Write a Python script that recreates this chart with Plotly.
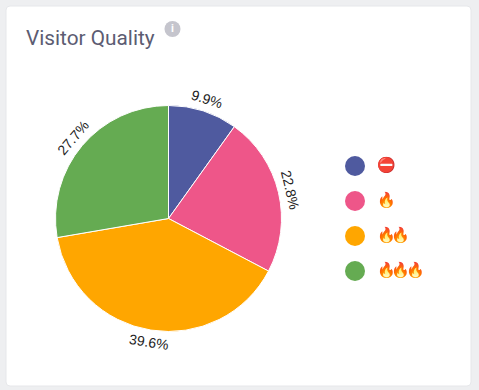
import math
import plotly.graph_objects as go

W, H = 479, 390
title = "Visitor Quality"
categories = ["⛔", "🔥", "🔥🔥", "🔥🔥🔥"]
values = [9.9, 22.8, 39.6, 27.7]
colors = ["#4f5a9f", "#ee5689", "#ffa600", "#65ab52"]

CX, CY, R, LABEL_R = 168.5, 218.5, 113, 125.5


def px(x):
    return x / W


def py(y):
    return 1 - y / H


fig = go.Figure()
fig.add_trace(go.Pie(
    values=values, labels=categories, sort=False, direction="clockwise", rotation=0,
    marker=dict(colors=colors, line=dict(color="white", width=1)),
    textinfo="none", hoverinfo="label+percent", showlegend=False,
    domain=dict(x=[px(CX - R), px(CX + R)], y=[py(CY + R), py(CY - R)]),
))

annotations = [
    dict(text=title, x=px(24), y=py(38.5), xref="paper", yref="paper", xanchor="left", yanchor="middle",
         showarrow=False, font=dict(family="Roboto", size=20.8, color="#5c5c72")),
    dict(text="<b>i</b>", x=px(172.5), y=py(29), xref="paper", yref="paper", xanchor="center", yanchor="middle",
         showarrow=False, font=dict(family="Roboto", size=11, color="white")),
]

total = sum(values)
cum = 0
for v in values:
    mid = (cum + v / 2) / total * 360
    cum += v
    rad = math.radians(mid)
    tx = CX + LABEL_R * math.sin(rad)
    ty = CY - LABEL_R * math.cos(rad)
    ang = mid if mid <= 90 else (mid - 180 if mid <= 270 else mid - 360)
    annotations.append(dict(
        text=f"{v:.1f}%", x=px(tx), y=py(ty), xref="paper", yref="paper",
        xanchor="center", yanchor="middle", textangle=ang, showarrow=False,
        font=dict(family="Liberation Sans", size=14, color="#222222"),
    ))

shapes = [
    dict(type="path", xref="paper", yref="paper", layer="below",
         path=f"M {px(10)} {py(6)} L {px(467)} {py(6)} Q {px(471)} {py(6)} {px(471)} {py(10)} "
              f"L {px(471)} {py(382)} Q {px(471)} {py(386)} {px(467)} {py(386)} "
              f"L {px(10)} {py(386)} Q {px(6)} {py(386)} {px(6)} {py(382)} "
              f"L {px(6)} {py(10)} Q {px(6)} {py(6)} {px(10)} {py(6)} Z",
         fillcolor="white", line=dict(color="#e6e7ea", width=1)),
    dict(type="circle", xref="paper", yref="paper", layer="below",
         x0=px(164.5), x1=px(180.5), y0=py(37), y1=py(21),
         fillcolor="#c5c5cd", line=dict(width=0)),
]

LEG_X, LEG_Y, LEG_DY, LEG_R, LEG_TX = 355, 166, 35, 10, 374.7
for i, (cat, col) in enumerate(zip(categories, colors)):
    y = LEG_Y + i * LEG_DY
    shapes.append(dict(type="circle", xref="paper", yref="paper", layer="below",
                       x0=px(LEG_X - LEG_R), x1=px(LEG_X + LEG_R), y0=py(y + LEG_R), y1=py(y - LEG_R),
                       fillcolor=col, line=dict(width=0)))
    annotations.append(dict(text=cat, x=px(LEG_TX), y=py(y - 1), xref="paper", yref="paper",
                            xanchor="left", yanchor="middle", showarrow=False,
                            font=dict(family="Liberation Sans", size=15, color="#222222")))

fig.update_layout(width=W, height=H, margin=dict(l=0, r=0, t=0, b=0), paper_bgcolor="#eeeff1",
                  plot_bgcolor="#eeeff1", annotations=annotations, shapes=shapes, showlegend=False)
post = """
document.body.style.margin='0';
document.body.style.background='#eeeff1';
document.body.style.overflow='hidden';
document.querySelectorAll('text.annotation-text').forEach(function(t){
  if (t.textContent.indexOf('\\u{1F525}') >= 0) {
    var left = t.getBBox().x;
    t.style.letterSpacing = '-4.7px';
    t.style.textAnchor = 'start';
    t.setAttribute('x', left);
  }
});
"""
fig.write_html("out.html", config=dict(displayModeBar=False), post_script=post)
